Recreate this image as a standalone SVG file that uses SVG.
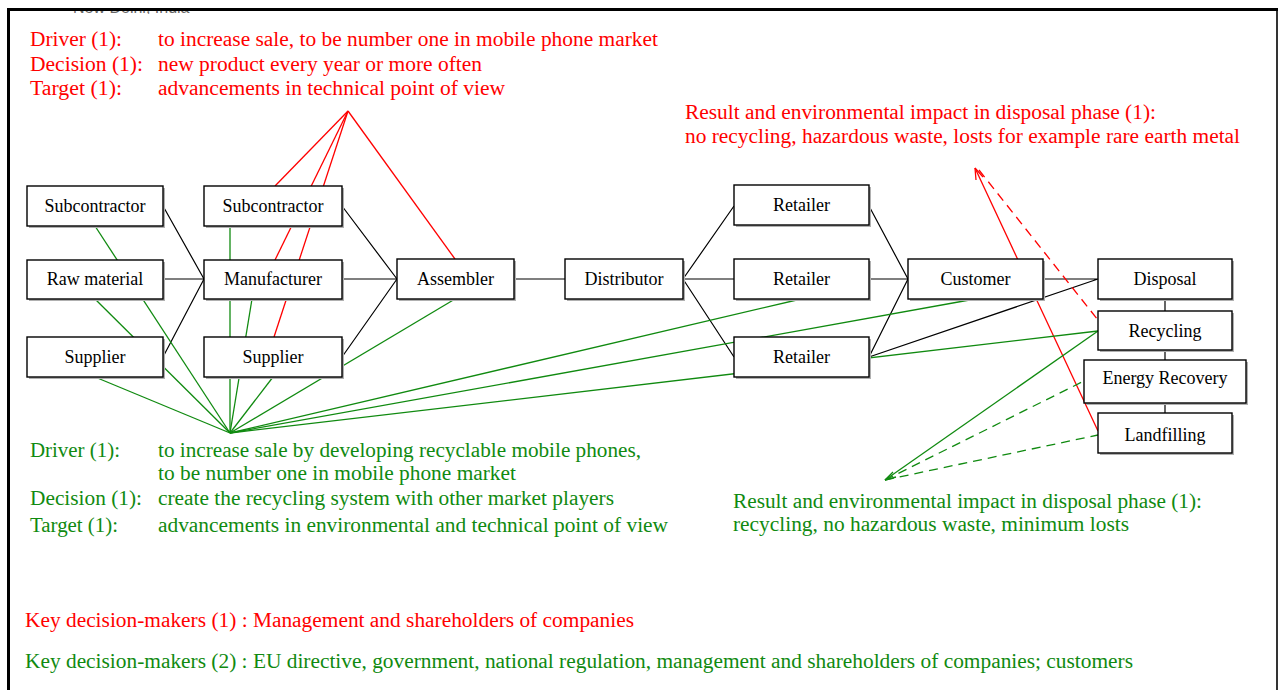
<svg xmlns="http://www.w3.org/2000/svg" width="1280" height="690" viewBox="0 0 1280 690">
<style>
.box{fill:#fff;stroke:#000;stroke-width:1.4}
.sh{fill:#b0b0b0}
.lbl{font-family:"Liberation Serif","Times New Roman",serif;font-size:18px;text-anchor:middle;fill:#000}
.t{font-family:"Liberation Serif","Times New Roman",serif;font-size:20px}
.r{fill:#ff0000}
.g{fill:#108a10}
.blk{stroke:#000;stroke-width:1.2;fill:none}
.rl{stroke:#ff0000;stroke-width:1.3;fill:none}
.gl{stroke:#108a10;stroke-width:1.3;fill:none}
.dash{stroke-dasharray:9 6}
</style>
<rect x="0" y="0" width="1280" height="690" fill="#fff"/>
<svg id="header" x="10" y="10" width="400" height="4" viewBox="10 10 400 4" overflow="hidden">
<ellipse cx="56" cy="4" rx="7" ry="7" fill="#2a6db5"/>
<text x="73" y="13" font-family="Liberation Sans, Arial, sans-serif" font-size="16" fill="#666">New Delhi, India</text>
</svg>
<g id="frame">
<line x1="7" y1="9.5" x2="1278" y2="9.5" stroke="#000" stroke-width="3"/>
<line x1="8.5" y1="8" x2="8.5" y2="690" stroke="#000" stroke-width="3"/>
<line x1="1277" y1="9" x2="1277" y2="690" stroke="#000" stroke-width="1.6"/>
</g>

<g id="connectors">
<path class="blk" d="M163,206 L204,279 M163,279 L204,279 M163,357 L204,279"/>
<path class="blk" d="M342,206 L397,279 M342,279 L397,279 M342,357 L397,279"/>
<path class="blk" d="M514,279 L565,279"/>
<path class="blk" d="M683,279 L734,206 M683,279 L734,279 M683,279 L734,357"/>
<path class="blk" d="M869,206 L908,279 M869,279 L908,279 M869,357 L908,279"/>
<path class="blk" d="M1043,279 L1098,279 M869,357 L1098,279"/>
<path class="blk" d="M1165,299 L1165,311 M1165,350 L1165,360 M1165,403 L1165,413"/>
<line class="rl" x1="348" y1="111" x2="275" y2="186" stroke-width="2"/>
<line class="rl" x1="348" y1="111" x2="275" y2="260"/>
<line class="rl" x1="348" y1="111" x2="274" y2="337"/>
<line class="rl" x1="348" y1="111" x2="455" y2="259"/>
<line class="rl" x1="975" y1="168" x2="1098" y2="431"/>
<line class="rl dash" x1="979" y1="170" x2="1098" y2="320"/>
<path class="rl" d="M975,168 L976,180 M975,168 L983,177"/>
<line class="gl" x1="230" y1="433" x2="95" y2="226"/>
<line class="gl" x1="230" y1="433" x2="95" y2="299" stroke-width="2"/>
<line class="gl" x1="230" y1="433" x2="95" y2="377"/>
<line class="gl" x1="230" y1="433" x2="230" y2="226"/>
<line class="gl" x1="230" y1="433" x2="252" y2="299"/>
<line class="gl" x1="230" y1="433" x2="273" y2="377" stroke-width="2"/>
<line class="gl" x1="230" y1="433" x2="455" y2="299"/>
<line class="gl" x1="230" y1="433" x2="801" y2="299"/>
<line class="gl" x1="230" y1="433" x2="975" y2="299"/>
<line class="gl" x1="230" y1="433" x2="1098" y2="331"/>
<line class="gl" x1="885" y1="480" x2="1098" y2="331"/>
<line class="gl dash" x1="885" y1="480" x2="1084" y2="381"/>
<line class="gl dash" x1="885" y1="480" x2="1098" y2="435"/>
<path class="gl" d="M885,480 L896,477 M885,480 L893,472"/>
</g>

<g id="n-subcontractor1"><rect class="sh" x="29" y="188" width="136" height="40"/><rect class="box" x="27" y="186" width="136" height="40"/><text class="lbl" x="95" y="212">Subcontractor</text></g>
<g id="n-rawmaterial"><rect class="sh" x="29" y="262" width="136" height="39"/><rect class="box" x="27" y="260" width="136" height="39"/><text class="lbl" x="95" y="285">Raw material</text></g>
<g id="n-supplier1"><rect class="sh" x="29" y="339" width="136" height="40"/><rect class="box" x="27" y="337" width="136" height="40"/><text class="lbl" x="95" y="363">Supplier</text></g>
<g id="n-subcontractor2"><rect class="sh" x="206" y="188" width="138" height="40"/><rect class="box" x="204" y="186" width="138" height="40"/><text class="lbl" x="273" y="212">Subcontractor</text></g>
<g id="n-manufacturer"><rect class="sh" x="206" y="262" width="138" height="39"/><rect class="box" x="204" y="260" width="138" height="39"/><text class="lbl" x="273" y="285">Manufacturer</text></g>
<g id="n-supplier2"><rect class="sh" x="206" y="339" width="138" height="40"/><rect class="box" x="204" y="337" width="138" height="40"/><text class="lbl" x="273" y="363">Supplier</text></g>
<g id="n-assembler"><rect class="sh" x="399" y="261" width="117" height="40"/><rect class="box" x="397" y="259" width="117" height="40"/><text class="lbl" x="455.5" y="285">Assembler</text></g>
<g id="n-distributor"><rect class="sh" x="567" y="261" width="118" height="40"/><rect class="box" x="565" y="259" width="118" height="40"/><text class="lbl" x="624" y="285">Distributor</text></g>
<g id="n-retailer1"><rect class="sh" x="736" y="187" width="135" height="40"/><rect class="box" x="734" y="185" width="135" height="40"/><text class="lbl" x="801.5" y="211">Retailer</text></g>
<g id="n-retailer2"><rect class="sh" x="736" y="261" width="135" height="40"/><rect class="box" x="734" y="259" width="135" height="40"/><text class="lbl" x="801.5" y="285">Retailer</text></g>
<g id="n-retailer3"><rect class="sh" x="736" y="339" width="135" height="40"/><rect class="box" x="734" y="337" width="135" height="40"/><text class="lbl" x="801.5" y="363">Retailer</text></g>
<g id="n-customer"><rect class="sh" x="910" y="261" width="135" height="40"/><rect class="box" x="908" y="259" width="135" height="40"/><text class="lbl" x="975.5" y="285">Customer</text></g>
<g id="n-disposal"><rect class="sh" x="1100" y="261" width="134" height="40"/><rect class="box" x="1098" y="259" width="134" height="40"/><text class="lbl" x="1165" y="285">Disposal</text></g>
<g id="n-recycling"><rect class="sh" x="1100" y="313" width="134" height="39"/><rect class="box" x="1098" y="311" width="134" height="39"/><text class="lbl" x="1165" y="337">Recycling</text></g>
<g id="n-energy"><rect class="sh" x="1086" y="362" width="162" height="43"/><rect class="box" x="1084" y="360" width="162" height="43"/><text class="lbl" x="1165" y="384">Energy Recovery</text></g>
<g id="n-landfilling"><rect class="sh" x="1100" y="415" width="134" height="40"/><rect class="box" x="1098" y="413" width="134" height="40"/><text class="lbl" x="1165" y="441">Landfilling</text></g>

<g id="red-annotations" class="t r">
<text x="30" y="46" textLength="92" lengthAdjust="spacingAndGlyphs">Driver (1):</text>
<text x="30" y="71" textLength="113" lengthAdjust="spacingAndGlyphs">Decision (1):</text>
<text x="30" y="95" textLength="92" lengthAdjust="spacingAndGlyphs">Target (1):</text>
<text x="158" y="46" textLength="500" lengthAdjust="spacingAndGlyphs">to increase sale, to be number one in mobile phone market</text>
<text x="158" y="71" textLength="324" lengthAdjust="spacingAndGlyphs">new product every year or more often</text>
<text x="158" y="95" textLength="347" lengthAdjust="spacingAndGlyphs">advancements in technical point of view</text>
<text x="685" y="119" textLength="471" lengthAdjust="spacingAndGlyphs">Result and environmental impact in disposal phase (1):</text>
<text x="685" y="143" textLength="555" lengthAdjust="spacingAndGlyphs">no recycling, hazardous waste, losts for example rare earth metal</text>
</g>
<g id="green-annotations" class="t g">
<text x="30" y="457" textLength="90" lengthAdjust="spacingAndGlyphs">Driver (1):</text>
<text x="158" y="457" textLength="483" lengthAdjust="spacingAndGlyphs">to increase sale by developing recyclable mobile phones,</text>
<text x="158" y="480" textLength="358" lengthAdjust="spacingAndGlyphs">to be number one in mobile phone market</text>
<text x="30" y="505" textLength="112" lengthAdjust="spacingAndGlyphs">Decision (1):</text>
<text x="158" y="505" textLength="456" lengthAdjust="spacingAndGlyphs">create the recycling system with other market players</text>
<text x="30" y="532" textLength="88" lengthAdjust="spacingAndGlyphs">Target (1):</text>
<text x="158" y="532" textLength="510" lengthAdjust="spacingAndGlyphs">advancements in environmental and technical point of view</text>
<text x="733" y="508" textLength="469" lengthAdjust="spacingAndGlyphs">Result and environmental impact in disposal phase (1):</text>
<text x="733" y="531" textLength="396" lengthAdjust="spacingAndGlyphs">recycling, no hazardous waste, minimum losts</text>
</g>
<g id="key-decision-makers" class="t">
<text class="r" x="25" y="627" textLength="609" lengthAdjust="spacingAndGlyphs">Key decision-makers (1) : Management and shareholders of companies</text>
<text class="g" x="25" y="668" textLength="1108" lengthAdjust="spacingAndGlyphs">Key decision-makers (2) : EU directive, government, national regulation, management and shareholders of companies; customers</text>
</g>
</svg>
